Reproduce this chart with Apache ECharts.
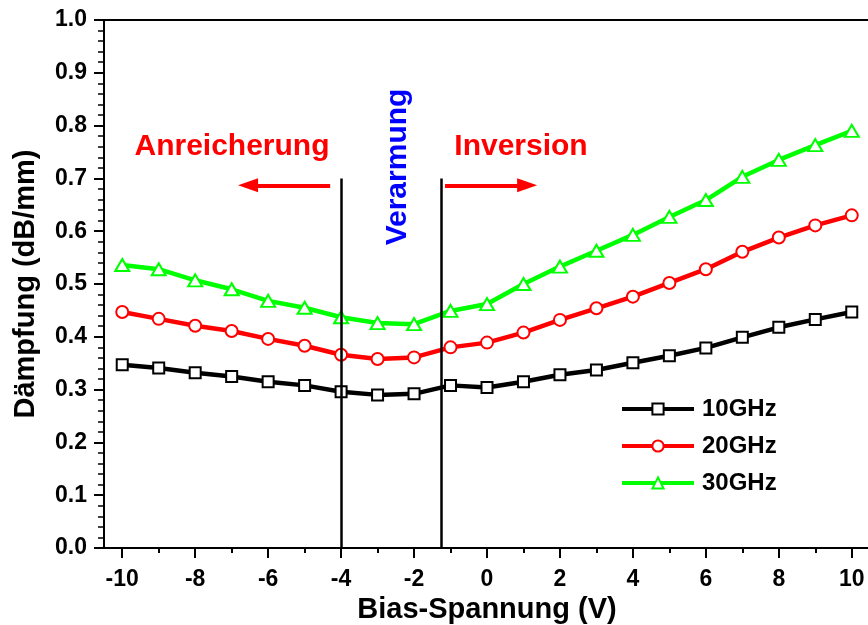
<!DOCTYPE html>
<html>
<head>
<meta charset="utf-8">
<script src="https://cdn.jsdelivr.net/npm/echarts@6/dist/echarts.min.js"></script>
<style>html,body{margin:0;padding:0;background:#fff}#chart{width:868px;height:625px}</style>
</head>
<body>
<div id="chart"></div>
<script>
// ---- data ----
var biasV = [-10,-9,-8,-7,-6,-5,-4,-3,-2,-1,0,1,2,3,4,5,6,7,8,9,10];
var damp10GHz = [0.347,0.341,0.332,0.325,0.315,0.308,0.296,0.290,0.292,0.308,0.304,0.315,0.328,0.337,0.351,0.364,0.379,0.399,0.418,0.433,0.447];
var damp20GHz = [0.447,0.434,0.421,0.411,0.396,0.383,0.366,0.358,0.361,0.380,0.389,0.408,0.432,0.454,0.476,0.502,0.528,0.561,0.588,0.611,0.630];
var damp30GHz = [0.536,0.528,0.507,0.490,0.468,0.455,0.437,0.426,0.424,0.449,0.462,0.500,0.533,0.563,0.593,0.627,0.659,0.703,0.735,0.763,0.790];
var seriesNames = ['10GHz','20GHz','30GHz'];
var xMajorTicks = [-10,-8,-6,-4,-2,0,2,4,6,8,10];
var xMinorTicks = [-9,-7,-5,-3,-1,1,3,5,7,9];
var regionBounds = [-4, -1.25];      // vertical separators (V)
var regionLineTop = 0.7;
var arrowY = 0.687;
var leftArrow = [-4.3, -6.55];
var rightArrow = [-1.15, 1.1];
var annotations = ['Anreicherung','Verarmung','Inversion'];

var FONT = '"Liberation Sans", Arial, Helvetica, sans-serif';
function pairs(ys){ return biasV.map(function(x,i){ return [x, ys[i]]; }); }

var chart = echarts.init(document.getElementById('chart'), null, {renderer:'canvas'});

var option = {
  animation: false,
  backgroundColor: '#fff',
  grid: {left: 104, right: -2, top: 20, bottom: 77, outerBoundsMode: 'none', containLabel: false,
    show: true, borderColor: '#000', borderWidth: 2, backgroundColor: 'transparent'},
  legend: {
    orient: 'vertical', left: 620, top: 397, padding: 0,
    itemWidth: 72, itemHeight: 14, itemGap: 13,
    data: seriesNames,
    lineStyle: {width: 4},
    textStyle: {fontFamily: FONT, fontWeight: 'bold', fontSize: 24, color: '#000', lineHeight: 24, padding: [0,0,0,3]}
  },
  xAxis: [{
    type: 'value', min: -10.5, max: 10.5, position: 'bottom',
    name: 'Bias-Spannung (V)', nameLocation: 'middle', nameGap: 47,
    nameTextStyle: {fontFamily: FONT, fontWeight: 'bold', fontSize: 29, color: '#000'},
    axisLine: {show: true, onZero: false, lineStyle: {color: '#000', width: 2}},
    axisTick: {show: true, customValues: xMajorTicks, length: 10, lineStyle: {color: '#000', width: 2}},
    axisLabel: {show: true, customValues: xMajorTicks, margin: 20, fontFamily: FONT, fontWeight: 'bold', fontSize: 23, color: '#000'},
    splitLine: {show: false}
  }, {
    type: 'value', min: -10.5, max: 10.5, position: 'bottom', offset: 0,
    axisLine: {show: false, onZero: false},
    axisTick: {show: true, customValues: xMinorTicks, length: 5, lineStyle: {color: '#000', width: 2}},
    axisLabel: {show: false},
    splitLine: {show: false}
  }],
  yAxis: {
    type: 'value', min: 0, max: 1, interval: 0.1,
    name: 'Dämpfung (dB/mm)', nameLocation: 'middle', nameGap: 64, nameRotate: 90,
    nameTextStyle: {fontFamily: FONT, fontWeight: 'bold', fontSize: 29, color: '#000'},
    axisLine: {show: true, onZero: false, lineStyle: {color: '#000', width: 2}},
    axisTick: {show: true, length: 10, lineStyle: {color: '#000', width: 2}},
    minorTick: {show: true, splitNumber: 5, length: 6, lineStyle: {color: '#000', width: 1.5}},
    axisLabel: {margin: 17, fontFamily: FONT, fontWeight: 'bold', fontSize: 23, color: '#000',
      formatter: function(v){ return v.toFixed(1); }},
    splitLine: {show: false}
  },
  series: [{
    name: seriesNames[0], type: 'line', data: pairs(damp10GHz),
    symbol: 'emptyRect', symbolSize: 11,
    lineStyle: {color: '#000', width: 4.5}, itemStyle: {color: '#000', borderWidth: 1.5},
    z: 3,
    markLine: {
      silent: true, animation: false, label: {show: false}, symbol: ['none','none'],
      data: [
        [{coord: [regionBounds[0], 0], lineStyle: {color: '#000', width: 2.5, type: 'solid'}}, {coord: [regionBounds[0], regionLineTop]}],
        [{coord: [regionBounds[1], 0], lineStyle: {color: '#000', width: 2.5, type: 'solid'}}, {coord: [regionBounds[1], regionLineTop]}],
        [{coord: [leftArrow[0], arrowY], symbol: 'none', lineStyle: {color: '#ff0000', width: 4, type: 'solid'}}, {coord: [leftArrow[1], arrowY], symbol: 'triangle', symbolSize: [14, 20]}],
        [{coord: [rightArrow[0], arrowY], symbol: 'none', lineStyle: {color: '#ff0000', width: 4, type: 'solid'}}, {coord: [rightArrow[1], arrowY], symbol: 'triangle', symbolSize: [14, 20]}]
      ]
    }
  }, {
    name: seriesNames[1], type: 'line', data: pairs(damp20GHz),
    symbol: 'emptyCircle', symbolSize: 12,
    lineStyle: {color: '#ff0000', width: 4.5}, itemStyle: {color: '#ff0000', borderWidth: 1.5}, z: 3
  }, {
    name: seriesNames[2], type: 'line', data: pairs(damp30GHz),
    symbol: 'emptyTriangle', symbolSize: [14, 12],
    lineStyle: {color: '#00ff00', width: 4.5}, itemStyle: {color: '#00ff00', borderWidth: 1.5}, z: 3
  }],
  graphic: [
    {type: 'text', x: 232, y: 147, style: {text: annotations[0], fill: '#ff0000', font: 'bold 30px ' + FONT, textAlign: 'center', textVerticalAlign: 'middle'}},
    {type: 'text', x: 521, y: 147, style: {text: annotations[2], fill: '#ff0000', font: 'bold 30px ' + FONT, textAlign: 'center', textVerticalAlign: 'middle'}},
    {type: 'text', x: 398, y: 167, rotation: Math.PI / 2, style: {text: annotations[1], fill: '#0000ff', font: 'bold 30px ' + FONT, textAlign: 'center', textVerticalAlign: 'middle'}}
  ]
};
chart.setOption(option);
</script>
</body>
</html>
